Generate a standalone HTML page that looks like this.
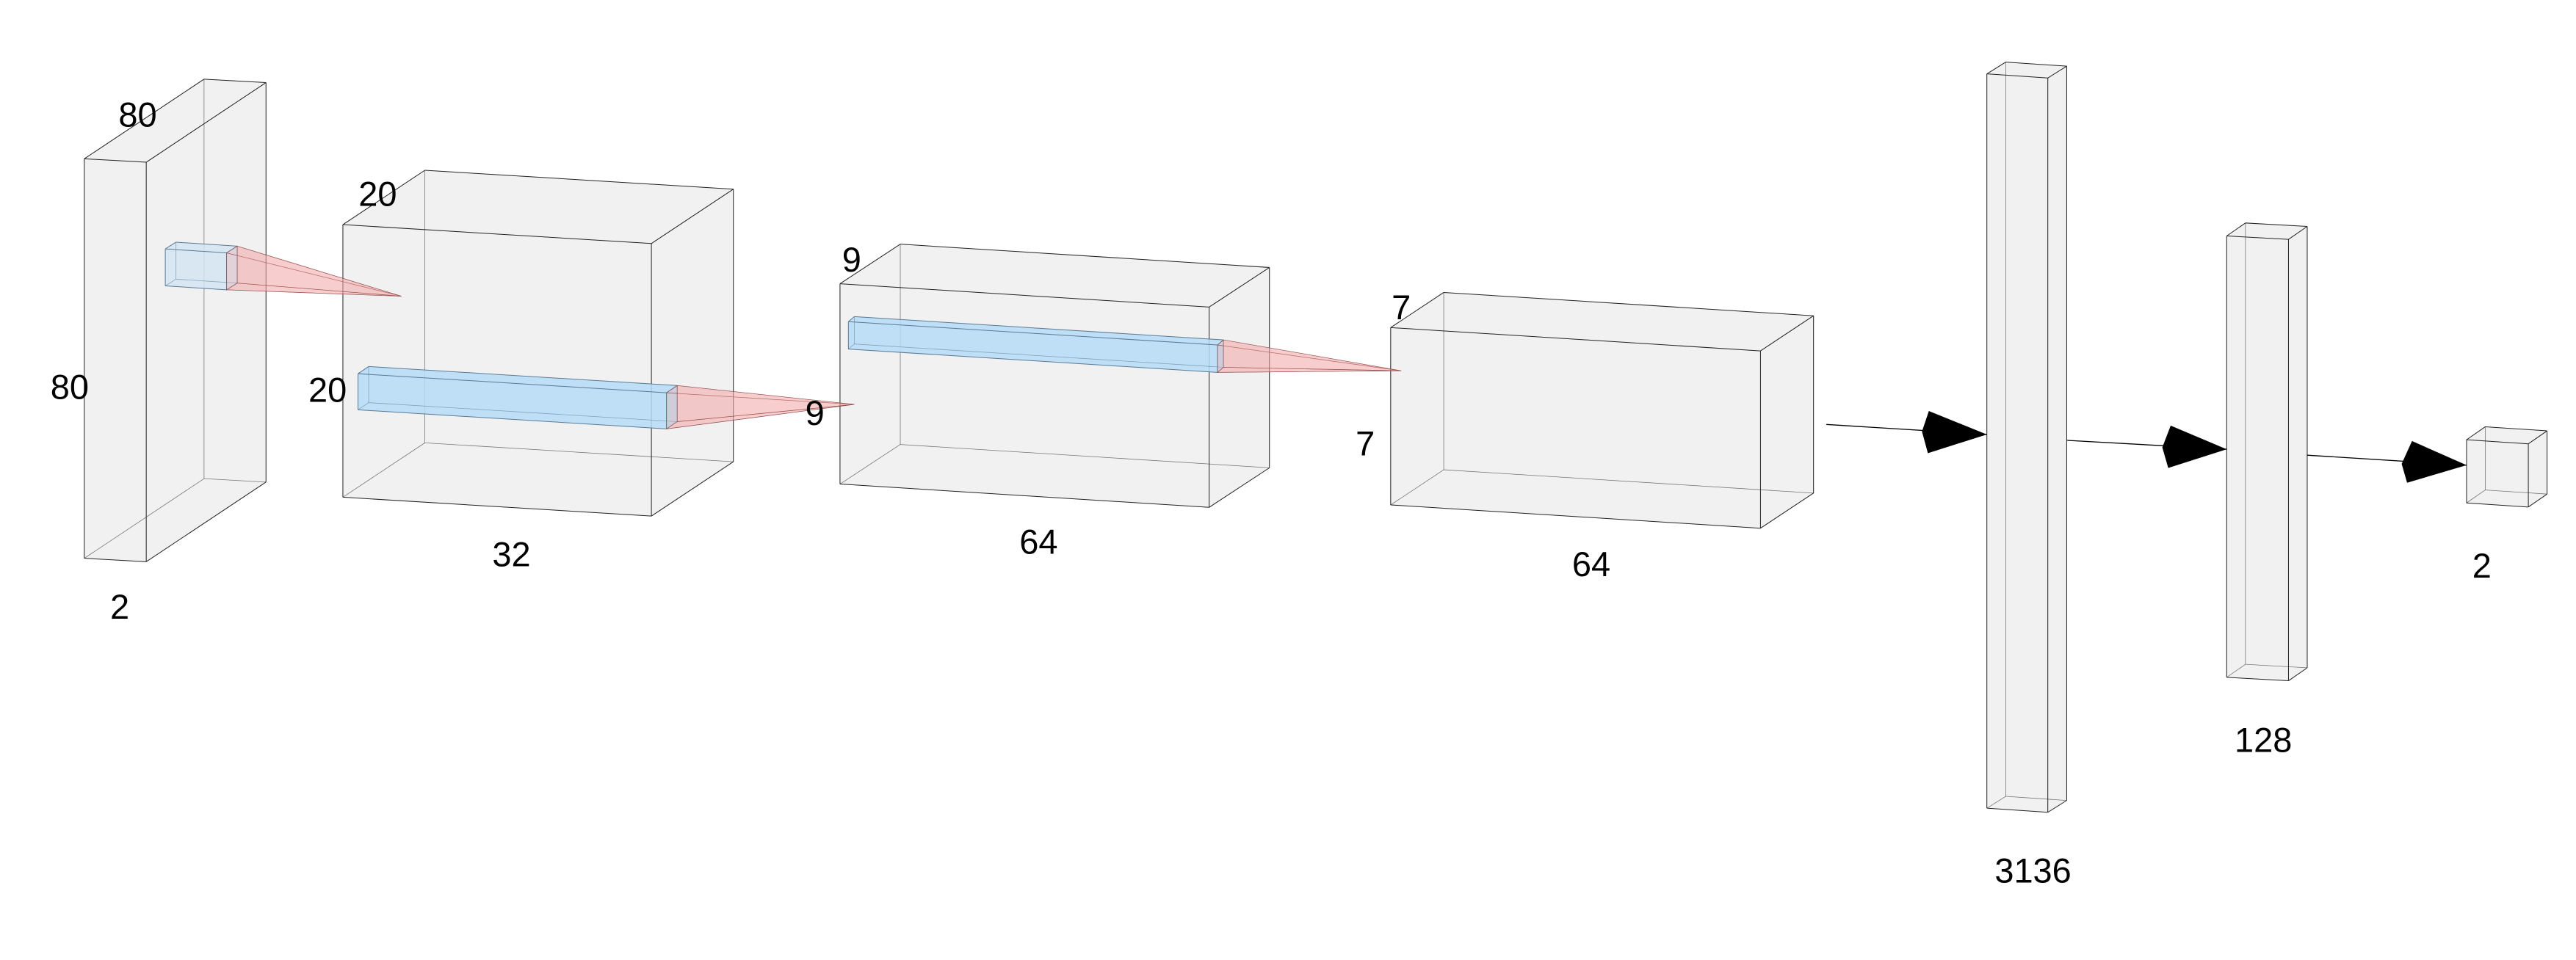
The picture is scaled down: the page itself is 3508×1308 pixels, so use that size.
<!DOCTYPE html>
<html><head><meta charset="utf-8"><style>
html,body{margin:0;padding:0;background:#fff;}
svg{display:block;}
text{font-family:"Liberation Sans",sans-serif;fill:#000;}
</style></head><body>
<svg id="c" width="3508" height="1308" viewBox="0 0 1568 584.66" xmlns="http://www.w3.org/2000/svg"></svg>
<script>
// Layer data (thumbnail coordinate space)
const layerNames = ['input','conv1','conv2','conv3','dense3136','dense128','output'];
const frontTL = [[51.3,96.7],[208.7,136.8],[511.3,172.8],[846.5,199.5],[1209.4,45],[1355.4,143.7],[1501.4,267.8]];
const frontTR = [[89,98.8],[396.5,148.3],[736,187],[1071.6,213.7],[1246.5,47.5],[1393,145.8],[1539,270.3]];
const frontH = [243.3,166,122,108,447.2,268.8,38.5];
const depthOff = [[72.9,-48.5],[49.9,-33.1],[36.7,-24.1],[32.3,-21.4],[11.5,-7.2],[11.4,-7.9],[11.4,-7.9]];
// kernels: [layerIndex, TL, TR, height, offset, apex, color]
const kernels = [
  [0,[100.6,151.6],[137.9,154],22.5,[6.5,-4.1],[244.3,180.4],'#d5e5f2'],
  [1,[217.9,227.6],[405.7,239.2],22,[6.5,-4.4],[520,246.3],'#b5dcf6'],
  [2,[516.4,195.9],[741.1,210.1],16.7,[3.6,-3.1],[852.9,225.8],'#b5dcf6']
];
const labels = [['80',83.8,69.8],['80',42.4,235.6],['2',72.9,369.5],['20',229.9,118],['20',199.4,237.4],['32',311.3,337.4],['9',496,251.5],['9',518.4,157.9],['64',632.2,329.9],['7',852.9,187],['7',831,270],['64',968.6,343.6],['3136',1237.5,530.2],['128',1377.7,450.5],['2',1510.7,344.3]];
const arrows = [[[1111.7,258.5],[1209.4,264.6],[1174.1,250.3],[1173.5,276],[1169.9,262.8]],
  [[1258.3,268.2],[1355.4,273.6],[1321.3,259.2],[1319.8,285],[1316.2,272.5]],
  [[1404.2,277.2],[1501.4,283.3],[1468.2,268.6],[1465.2,294],[1461.9,282.5]]];

const svg=document.getElementById('c');
const NS='http://www.w3.org/2000/svg';
function mk(tag,attrs,parent){const e=document.createElementNS(NS,tag);for(const k in attrs)e.setAttribute(k,attrs[k]);(parent||svg).appendChild(e);return e;}
function pts(a){return a.map(p=>p[0]+','+p[1]).join(' ');}
function add(p,o){return [p[0]+o[0],p[1]+o[1]];}
function cuboid(tl,tr,h,off,fill,op,g,stroke){
  const bl=[tl[0],tl[1]+h], br=[tr[0],tr[1]+h];
  const btl=add(tl,off),btr=add(tr,off),bbl=add(bl,off),bbr=add(br,off);
  mk('polygon',{points:pts([tl,btl,btr,bbr,br,bl]),fill:fill,'fill-opacity':op,stroke:'none'},g);
  const hid=[[btl,bbl],[bbl,bbr],[bl,bbl]];
  hid.forEach(e=>mk('line',{x1:e[0][0],y1:e[0][1],x2:e[1][0],y2:e[1][1],stroke:stroke,'stroke-width':0.35,'stroke-opacity':0.6},g));
  const vis=[[tl,tr],[tr,br],[br,bl],[bl,tl],[tl,btl],[tr,btr],[br,bbr],[btl,btr],[btr,bbr]];
  vis.forEach(e=>mk('line',{x1:e[0][0],y1:e[0][1],x2:e[1][0],y2:e[1][1],stroke:stroke,'stroke-width':0.45},g));
  return {tr,br,btr,bbr};
}
layerNames.forEach((n,i)=>{
  const g=mk('g',{});
  
  
  cuboid(frontTL[i],frontTR[i],frontH[i],depthOff[i],'#e8e8e8',0.6,g,'#222');
});
kernels.forEach((k,i)=>{
  const g=mk('g',{});
  
  
  const c=cuboid(k[1],k[2],k[3],k[4],k[6],0.85,g,'#5a7a95');
  const a=k[5];
  [[c.tr,c.br],[c.tr,c.btr],[c.br,c.bbr],[c.btr,c.bbr]].forEach(e=>{
    mk('polygon',{points:pts([e[0],e[1],a]),fill:'#f4a9a9','fill-opacity':0.35,stroke:'#8a4040','stroke-width':0.3,'stroke-opacity':0.7},g);
  });
});
arrows.forEach((a,i)=>{
  const g=mk('g',{});
  
  
  mk('line',{x1:a[0][0],y1:a[0][1],x2:a[1][0],y2:a[1][1],stroke:'#000','stroke-width':0.6},g);
  mk('polygon',{points:pts([a[1],a[2],a[4],a[3]]),fill:'#000'},g);
});
labels.forEach((l,i)=>{
  const t=mk('text',{x:l[1],y:l[2],'text-anchor':'middle','dominant-baseline':'central','font-size':21});
  
  
  t.textContent=l[0];
});
</script>
</body></html>
